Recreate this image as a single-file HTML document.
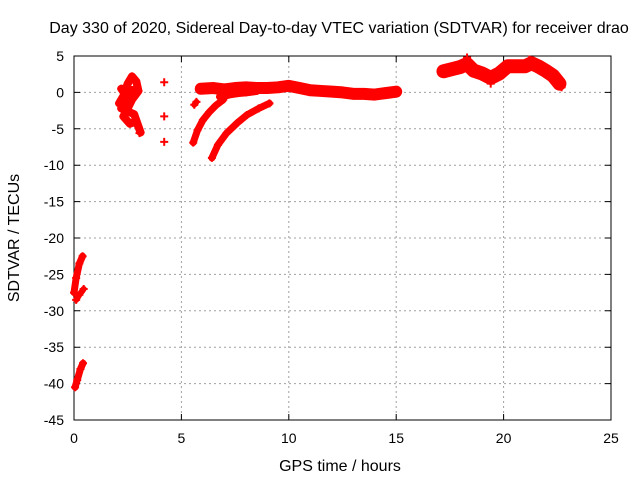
<!DOCTYPE html>
<html><head><meta charset="utf-8"><style>
body{margin:0;background:#fff}
svg text{font-family:"Liberation Sans",sans-serif;font-size:14px;fill:#000}
svg text.big{font-size:16px}
</style></head><body>
<svg id="chart" width="640" height="480" viewBox="0 0 640 480" xmlns="http://www.w3.org/2000/svg">
<rect width="640" height="480" fill="#fff"/>
<text class="big" x="339" y="33" text-anchor="middle">Day 330 of 2020, Sidereal Day-to-day VTEC variation (SDTVAR) for receiver drao</text>
<g id="grid"></g>
<g id="axes"></g>
<g id="series"></g>
<text class="big" x="340" y="471" text-anchor="middle">GPS time / hours</text>
<text class="big" transform="translate(19,238) rotate(-90)" text-anchor="middle">SDTVAR / TECUs</text>
</svg>
<script>
const xTicks=[0,5,10,15,20,25];
const yTicks=[5,0,-5,-10,-15,-20,-25,-30,-35,-40,-45];
// band segments: [hour, TECU]
const bandMain=[[5.9,0.5],[6.5,0.6],[7,0.4],[7.5,0.6],[8,0.7],[8.5,0.6],[9,0.6],[9.5,0.7],[10,0.9],[10.5,0.6],[11,0.3],[11.5,0.2],[12,0.1],[12.5,0.0],[13,-0.2],[13.5,-0.2],[14,-0.3],[14.5,-0.1],[15,0.1]];
const bandMainLow=[[6.8,-0.6],[7.2,-0.3],[7.6,-0.1],[8,0.0],[8.5,0.2]];
const curve1=[[5.55,-6.9],[5.75,-5.2],[6.0,-3.8],[6.3,-2.7],[6.6,-1.8],[6.95,-1.0]];
const curve2=[[6.42,-9.0],[6.7,-7.2],[7.1,-5.6],[7.6,-4.2],[8.05,-3.1],[8.6,-2.2],[9.1,-1.5]];
const blob=[[5.6,-1.7],[5.7,-1.3]];
const cluster=[[2.1,-1.5],[2.3,-0.5],[2.5,1.2],[2.7,2.2],[2.9,1.5],[3.0,0.2],[2.7,-1.0],[2.5,-2.2],[2.3,-3.3],[2.6,-4.3],[2.9,-4.0],[3.1,-5.5],[2.8,-3.0],[2.2,-2.2],[2.4,-0.2],[2.8,0.3],[2.2,0.5],[2.6,-1.2]];
const early1=[[0.0,-27.5],[0.1,-25.5],[0.25,-23.5],[0.4,-22.5]];
const early2=[[0.1,-28.5],[0.25,-27.8],[0.45,-27.0]];
const early3=[[0.05,-40.5],[0.15,-39.5],[0.3,-38.0],[0.42,-37.2]];
const bandRight=[[17.2,2.9],[17.6,3.2],[18.0,3.5],[18.3,3.9],[18.6,3.0],[19.0,2.6],[19.4,2.0],[19.8,2.6],[20.2,3.6],[20.6,3.6],[21.0,3.6],[21.3,4.0],[21.6,3.6],[22.0,2.9],[22.3,2.3],[22.6,1.2]];
const singles=[[4.2,1.4],[4.2,-3.3],[4.2,-6.8],[18.3,4.8],[21.2,4.5],[19.4,1.2],[22.7,0.7],[3.05,-5.6]];

const X0=74,X1=611,Y0=56,Y1=420,XMIN=0,XMAX=25,YMAX=5,YMIN=-45;
const sx=t=>X0+(t-XMIN)/(XMAX-XMIN)*(X1-X0);
const sy=v=>Y0+(YMAX-v)/(YMAX-YMIN)*(Y1-Y0);
const NS='http://www.w3.org/2000/svg';
function mk(tag,parent,attrs){const e=document.createElementNS(NS,tag);for(const k in attrs)e.setAttribute(k,attrs[k]);parent.appendChild(e);return e;}
const grid=document.getElementById('grid'),axes=document.getElementById('axes'),ser=document.getElementById('series');
xTicks.forEach(t=>{
 const x=sx(t);
 if(t>XMIN&&t<XMAX){const g=mk('line',grid,{x1:x,x2:x,y1:Y0,y2:Y1,stroke:'#a0a0a0','stroke-dasharray':'2,3'});
 
 }
 const tk=mk('path',axes,{d:`M${x},${Y1}v-6M${x},${Y0}v6`,stroke:'#000'});
 
 
 const lb=mk('text',axes,{x:x,y:Y1+23,'text-anchor':'middle'});lb.textContent=t;
 
 
});
yTicks.forEach(v=>{
 const y=sy(v);
 if(v<YMAX&&v>YMIN){const g=mk('line',grid,{x1:X0,x2:X1,y1:y,y2:y,stroke:'#a0a0a0','stroke-dasharray':'2,3'});
 
 }
 const tk=mk('path',axes,{d:`M${X0},${y}h6M${X1},${y}h-6`,stroke:'#000'});
 
 
 const lb=mk('text',axes,{x:X0-10,y:y+5,'text-anchor':'end'});lb.textContent=v;
 
 
});
const fr=mk('rect',axes,{x:X0,y:Y0,width:X1-X0,height:Y1-Y0,fill:'none',stroke:'#000'});


function band(arr,w,name){
 const p=mk('polyline',ser,{points:arr.map(d=>sx(d[0])+','+sy(d[1])).join(' '),fill:'none',stroke:'#f00','stroke-width':w,'stroke-linejoin':'round','stroke-linecap':'round'});
 
 
 arr.forEach(d=>plus(d,name+'-point'));
}
function plus(d,name){
 const x=sx(d[0]),y=sy(d[1]);
 const m=mk('path',ser,{d:`M${x-4},${y}h8M${x},${y-4}v8`,stroke:'#f00','stroke-width':2});
 
 
}
band(bandMain,12,'main-band');
band(bandMainLow,8,'main-band-lower');
band(curve1,7,'rising-arc-1');
band(curve2,7,'rising-arc-2');
band(blob,6,'small-blob');
band(cluster,8,'early-cluster');
band(early1,7,'start-segment-1');
band(early2,6,'start-segment-2');
band(early3,7,'start-segment-3');
band(bandRight,14,'right-band');
singles.forEach(d=>plus(d,'single-point'));
</script>
</body></html>
